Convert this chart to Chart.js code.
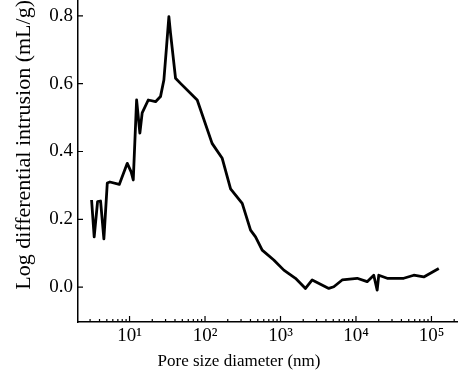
<!DOCTYPE html>
<html>
<head>
<meta charset="utf-8">
<script src="https://cdn.jsdelivr.net/npm/chart.js@4"></script>
<style>
  html, body { margin: 0; padding: 0; background: #fff; }
</style>
</head>
<body>
<canvas id="pore-chart" width="463" height="379"></canvas>
<script>
// =============================================================================
// DATA
// =============================================================================

const poreSize = [3.14, 3.40, 3.77, 4.13, 4.57, 5.07, 5.49, 7.31, 9.33, 10.5, 11.2, 12.4, 13.7, 14.7,
  17.7, 22.1, 25.7, 28.5, 30.9, 33.2, 34.9, 40.7, 47.3, 78.8, 124, 169, 218, 311, 401, 467, 572,
  815, 1107, 1581, 2143, 2630, 4365, 5084, 6561, 10370, 14060, 17200, 19090, 20040, 25900, 42950,
  58340, 79070, 125000];
const logIntrusion = [0.257, 0.148, 0.252, 0.254, 0.142, 0.307, 0.31, 0.303, 0.365, 0.34, 0.316, 0.552, 0.454, 0.514,
  0.552, 0.547, 0.562, 0.611, 0.709, 0.798, 0.749, 0.616, 0.601, 0.552, 0.424, 0.38, 0.29, 0.247, 0.168, 0.148, 0.109,
  0.08, 0.05, 0.026, -0.004, 0.021, -0.004, 0.001, 0.021, 0.026, 0.016, 0.035, -0.009, 0.035, 0.026, 0.026,
  0.035, 0.030, 0.055];

const yTicks = [0, 0.2, 0.4, 0.6, 0.8];
const xDecades = [10, 100, 1000, 10000, 100000];
const xLabels = ['10¹', '10²', '10³', '10⁴', '10⁵'];
const xTitle = 'Pore size diameter (nm)';
const yTitle = 'Log differential intrusion (mL/g)';

const SERIF = '"Liberation Serif", "Times New Roman", serif';

// =============================================================================
// PLUGIN: inward tick marks + x title
// =============================================================================

const innerTicks = {
  id: 'innerTicks',
  afterDraw(chart) {
    const { ctx, chartArea: a, scales: { x, y } } = chart;
    ctx.save();
    ctx.strokeStyle = '#000';
    ctx.lineWidth = 1.2;
    ctx.beginPath();
    yTicks.forEach(v => {
      const p = y.getPixelForValue(v);
      ctx.moveTo(a.left, p);
      ctx.lineTo(a.left + 5, p);
    });
    for (let e = 0; e <= 5; e++) {
      for (let m = 1; m <= 9; m++) {
        const v = m * Math.pow(10, e);
        if (v < x.min || v > x.max) continue;
        const p = x.getPixelForValue(v);
        const len = m === 1 ? 6 : 3;
        ctx.moveTo(p, a.bottom);
        ctx.lineTo(p, a.bottom - len);
      }
    }
    ctx.stroke();

    ctx.font = '17px ' + SERIF;
    ctx.fillStyle = '#000';
    ctx.textAlign = 'center';
    ctx.textBaseline = 'alphabetic';
    ctx.fillText(xTitle, 239, 366);
    ctx.restore();
  }
};

// =============================================================================
// CHART
// =============================================================================

const ctx = document.getElementById('pore-chart').getContext('2d');

new Chart(ctx, {
  type: 'line',
  data: {
    datasets: [{
      data: poreSize.map((v, i) => ({ x: v, y: logIntrusion[i] })),
      borderColor: '#000',
      borderWidth: 2.8,
      pointRadius: 0,
      tension: 0,
      borderJoinStyle: 'round',
      fill: false
    }]
  },
  options: {
    responsive: false,
    animation: false,
    layout: { padding: { left: 0, right: 6, top: 0, bottom: 0 } },
    plugins: { legend: { display: false }, tooltip: { enabled: false } },
    scales: {
      x: {
        type: 'logarithmic',
        min: 2.075,
        max: 218000,
        grid: { display: false, drawTicks: false },
        border: { display: true, color: '#000', width: 1.5 },
        afterBuildTicks: (s) => { s.ticks = xDecades.map(v => ({ value: v })); },
        afterFit: (s) => {
          s.height = 57;
          s.paddingLeft = 0;
          s.paddingRight = 0;
        },
        ticks: {
          color: '#000',
          font: { family: SERIF, size: 19 },
          padding: 3,
          autoSkip: false,
          maxRotation: 0,
          callback: (val) => {
            const i = xDecades.indexOf(val);
            return i >= 0 ? xLabels[i] : '';
          }
        }
      },
      y: {
        type: 'linear',
        min: -0.103,
        max: 0.847,
        grid: { display: false, drawTicks: false },
        border: { display: true, color: '#000', width: 1.5 },
        afterBuildTicks: (s) => { s.ticks = yTicks.map(v => ({ value: v })); },
        afterFit: (s) => {
          s.width = 78;
          s.paddingTop = 0;
          s.paddingBottom = 0;
        },
        ticks: {
          color: '#000',
          font: { family: SERIF, size: 19 },
          padding: 5,
          callback: (val) => val.toFixed(1)
        },
        title: {
          display: true,
          text: yTitle,
          color: '#000',
          align: 'end',
          font: { family: SERIF, size: 22 },
          padding: { top: 11, bottom: 0 }
        }
      }
    }
  },
  plugins: [innerTicks]
});
</script>
</body>
</html>
